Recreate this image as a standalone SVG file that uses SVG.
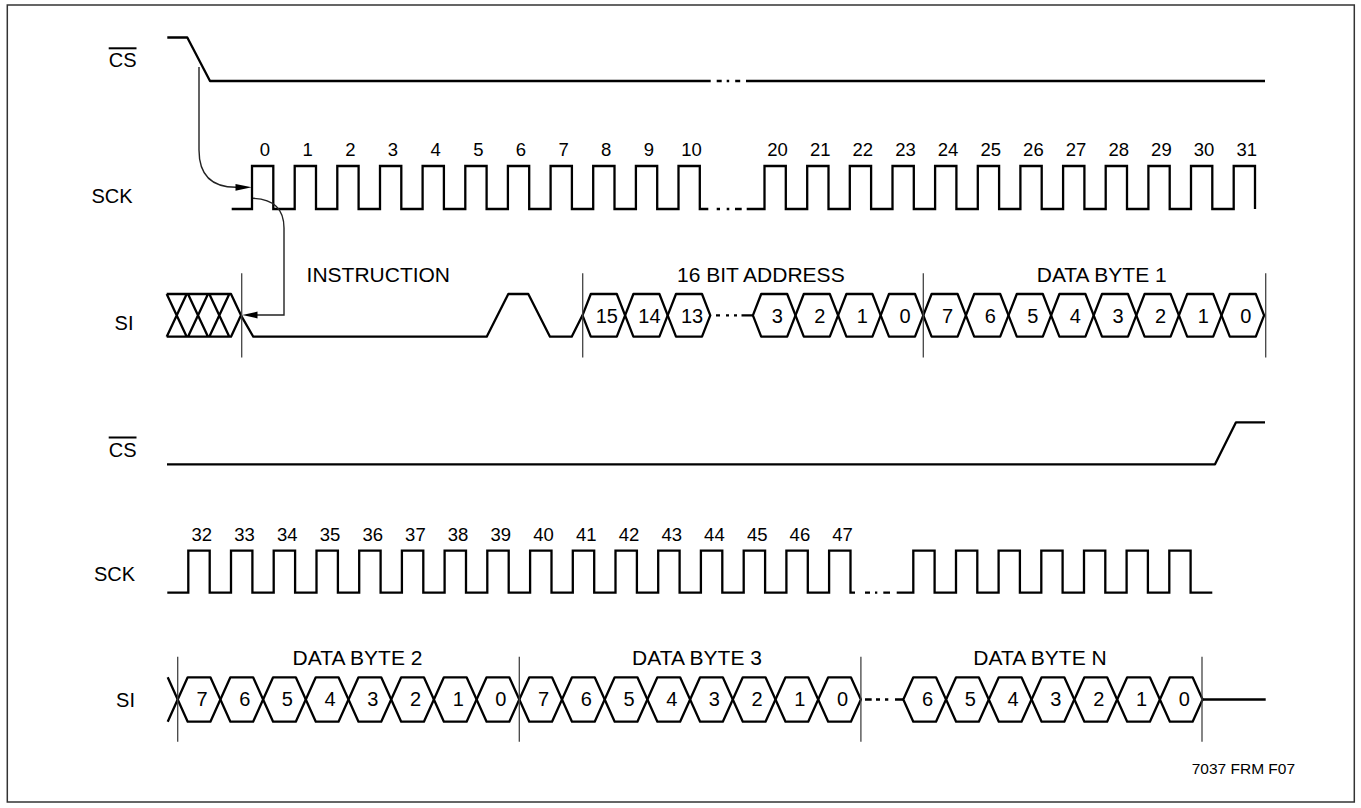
<svg xmlns="http://www.w3.org/2000/svg" xmlns:xlink="http://www.w3.org/1999/xlink" width="1361" height="808" viewBox="0 0 1361 808">
<style>
text{font-family:"Liberation Sans",Arial,sans-serif;fill:#000}
.sig{fill:none;stroke:#000;stroke-width:2.3;stroke-linejoin:round;stroke-linecap:butt}
.clk{fill:none;stroke:#000;stroke-width:2.3;stroke-linejoin:miter;stroke-linecap:butt}
.mk{stroke:#444;stroke-width:1.3}
.arr{fill:none;stroke:#222;stroke-width:1.4}
.ah{fill:#000}
.side{font-size:20px;text-anchor:end}
.num{font-size:18.5px;text-anchor:middle}
.bit{font-size:20px;text-anchor:middle}
.grp{font-size:21px;text-anchor:middle}
</style>
<defs>
<polygon id="hu" class="sig" points="0,0 8.3,-21.35 34.3,-21.35 42.6,0 34.3,21.35 8.3,21.35"/>
<polygon id="hl" class="sig" points="0,0 10,-22.2 32.7,-22.2 42.7,0 32.7,22.2 10,22.2"/>
</defs>
<rect x="7.3" y="5" width="1347" height="797" fill="none" stroke="#333" stroke-width="1.5"/>

<g id="labels">
<text class="side" x="136.5" y="67.3" text-decoration="overline">CS</text>
<text class="side" x="132.5" y="202.5">SCK</text>
<text class="side" x="133.5" y="329.5">SI</text>
<text class="side" x="136.5" y="456.5" text-decoration="overline">CS</text>
<text class="side" x="135" y="580.7">SCK</text>
<text class="side" x="135" y="706.7">SI</text>
<text x="1191.7" y="774.3" style="font-size:15.5px">7037 FRM F07</text>
</g>

<g id="cs-top">
<path class="sig" d="M167.3,37.5 H187.3 L210,81 H710.7 M746,81 H1265"/>
<path class="sig" d="M716.7,81 H721.7 M726.7,81 H729.2 M735.2,81 H740.2"/>
</g>

<g id="sck-top">
<path class="clk" d="M231.7,209 H252 V166 H273.3 V209 H294.7 V166 H316 V209 H337.3 V166 H358.6 V209 H380 V166 H401.3 V209 H422.6 V166 H443.9 V209 H465.3 V166 H486.6 V209 H507.9 V166 H529.2 V209 H550.6 V166 H571.9 V209 H593.2 V166 H614.5 V209 H635.9 V166 H657.2 V209 H678.5 V166 H699.8 V209 H708.3"/>
<path class="clk" d="M716.7,209 H720 M726.7,209 H729.3 M735,209 H741.7"/>
<path class="clk" d="M746.7,209 H764.5 V166 H785.8 V209 H807.2 V166 H828.5 V209 H849.8 V166 H871.1 V209 H892.5 V166 H913.8 V209 H935.1 V166 H956.4 V209 H977.8 V166 H999.1 V209 H1020.4 V166 H1041.7 V209 H1063.1 V166 H1084.4 V209 H1105.7 V166 H1127 V209 H1148.4 V166 H1169.7 V209 H1191 V166 H1212.3 V209 H1233.7 V166 H1255 V209"/>
<g class="num">
<text x="265" y="156">0</text><text x="307.7" y="156">1</text><text x="350.3" y="156">2</text><text x="393" y="156">3</text><text x="435.6" y="156">4</text><text x="478.3" y="156">5</text><text x="520.9" y="156">6</text><text x="563.6" y="156">7</text><text x="606.2" y="156">8</text><text x="648.9" y="156">9</text><text x="691.5" y="156">10</text>
<text x="777.5" y="156">20</text><text x="820.2" y="156">21</text><text x="862.8" y="156">22</text><text x="905.5" y="156">23</text><text x="948.1" y="156">24</text><text x="990.8" y="156">25</text><text x="1033.4" y="156">26</text><text x="1076.1" y="156">27</text><text x="1118.7" y="156">28</text><text x="1161.4" y="156">29</text><text x="1204" y="156">30</text><text x="1246.7" y="156">31</text>
</g>
</g>

<g id="si-top">
<path class="sig" d="M166.7,294 H231 L241,315.35 L231,336.7 H166.7 M166.7,294 L186.7,336.7 M166.7,336.7 L186.7,294 M188,294 L208,336.7 M188,336.7 L208,294 M209.3,294 L229.3,336.7 M209.3,336.7 L229.3,294"/>
<path class="sig" d="M241,315.35 L253.3,336.7 H486.7 L508.3,294 H528.3 L550,336.7 H571.7 L582.5,315.35"/>
<use xlink:href="#hu" x="582.5" y="315.35"/><use xlink:href="#hu" x="625.1" y="315.35"/><use xlink:href="#hu" x="667.7" y="315.35"/>
<path class="sig" d="M716,315.35 H720 M726,315.35 H729 M734,315.35 H737 M741.5,315.35 H752.9"/>
<use xlink:href="#hu" x="752.9" y="315.35"/><use xlink:href="#hu" x="795.5" y="315.35"/><use xlink:href="#hu" x="838.1" y="315.35"/><use xlink:href="#hu" x="880.7" y="315.35"/>
<use xlink:href="#hu" x="923.3" y="315.35"/><use xlink:href="#hu" x="965.9" y="315.35"/><use xlink:href="#hu" x="1008.5" y="315.35"/><use xlink:href="#hu" x="1051.1" y="315.35"/><use xlink:href="#hu" x="1093.7" y="315.35"/><use xlink:href="#hu" x="1136.3" y="315.35"/><use xlink:href="#hu" x="1178.9" y="315.35"/><use xlink:href="#hu" x="1221.5" y="315.35"/>
<g class="bit">
<text x="606.8" y="323">15</text><text x="649.4" y="323">14</text><text x="692" y="323">13</text>
<text x="777.2" y="323">3</text><text x="819.8" y="323">2</text><text x="862.4" y="323">1</text><text x="905" y="323">0</text>
<text x="947.6" y="323">7</text><text x="990.2" y="323">6</text><text x="1032.8" y="323">5</text><text x="1075.4" y="323">4</text><text x="1118" y="323">3</text><text x="1160.6" y="323">2</text><text x="1203.2" y="323">1</text><text x="1245.8" y="323">0</text>
</g>
<g class="mk"><line x1="241.7" y1="273.3" x2="241.7" y2="357.5"/><line x1="582.7" y1="273.3" x2="582.7" y2="357.5"/><line x1="923.3" y1="273.3" x2="923.3" y2="357.5"/><line x1="1265.7" y1="273.3" x2="1265.7" y2="357.5"/></g>
<g class="grp">
<text x="378.3" y="281.7">INSTRUCTION</text>
<text x="760.8" y="281.7">16 BIT ADDRESS</text>
<text x="1101.7" y="281.7">DATA BYTE 1</text>
</g>
</g>

<g id="cs-bottom">
<path class="sig" d="M167,464.3 H1215 L1236,422.3 H1265"/>
</g>

<g id="sck-bottom">
<path class="clk" d="M167.3,592.7 H188.3 V550.7 H209.7 V592.7 H231 V550.7 H252.4 V592.7 H273.7 V550.7 H295.1 V592.7 H316.5 V550.7 H337.9 V592.7 H359.2 V550.7 H380.6 V592.7 H401.9 V550.7 H423.3 V592.7 H444.6 V550.7 H466 V592.7 H487.3 V550.7 H508.7 V592.7 H530.1 V550.7 H551.5 V592.7 H572.8 V550.7 H594.2 V592.7 H615.5 V550.7 H636.9 V592.7 H658.2 V550.7 H679.6 V592.7 H700.9 V550.7 H722.3 V592.7 H743.7 V550.7 H765.1 V592.7 H786.4 V550.7 H807.8 V592.7 H829.1 V550.7 H850.5 V592.7 H855"/>
<path class="clk" d="M865,592.7 H870 M875,592.7 H877.3 M883.3,592.7 H890"/>
<path class="clk" d="M896.7,592.7 H913.3 V550.7 H934.6 V592.7 H956 V550.7 H977.3 V592.7 H998.6 V550.7 H1019.9 V592.7 H1041.3 V550.7 H1062.6 V592.7 H1084 V550.7 H1105.3 V592.7 H1126.6 V550.7 H1147.9 V592.7 H1169.3 V550.7 H1190.6 V592.7 H1212.3"/>
<g class="num">
<text x="201.8" y="540.7">32</text><text x="244.5" y="540.7">33</text><text x="287.2" y="540.7">34</text><text x="330" y="540.7">35</text><text x="372.7" y="540.7">36</text><text x="415.4" y="540.7">37</text><text x="458.1" y="540.7">38</text><text x="500.8" y="540.7">39</text><text x="543.6" y="540.7">40</text><text x="586.3" y="540.7">41</text><text x="629" y="540.7">42</text><text x="671.7" y="540.7">43</text><text x="714.4" y="540.7">44</text><text x="757.2" y="540.7">45</text><text x="799.9" y="540.7">46</text><text x="842.6" y="540.7">47</text>
</g>
</g>

<g id="si-bottom">
<path class="sig" d="M167.7,677.3 L177.7,699.5 L167.7,721.7"/>
<use xlink:href="#hl" x="177.7" y="699.5"/><use xlink:href="#hl" x="220.4" y="699.5"/><use xlink:href="#hl" x="263.1" y="699.5"/><use xlink:href="#hl" x="305.8" y="699.5"/><use xlink:href="#hl" x="348.5" y="699.5"/><use xlink:href="#hl" x="391.2" y="699.5"/><use xlink:href="#hl" x="433.9" y="699.5"/><use xlink:href="#hl" x="476.6" y="699.5"/>
<use xlink:href="#hl" x="519.3" y="699.5"/><use xlink:href="#hl" x="562" y="699.5"/><use xlink:href="#hl" x="604.7" y="699.5"/><use xlink:href="#hl" x="647.4" y="699.5"/><use xlink:href="#hl" x="690.1" y="699.5"/><use xlink:href="#hl" x="732.8" y="699.5"/><use xlink:href="#hl" x="775.5" y="699.5"/><use xlink:href="#hl" x="818.2" y="699.5"/>
<path class="sig" d="M865,699.5 H871.7 M876,699.5 H880 M885,699.5 H888.3 M895,699.5 H903.3"/>
<use xlink:href="#hl" x="903.3" y="699.5"/><use xlink:href="#hl" x="946.1" y="699.5"/><use xlink:href="#hl" x="988.8" y="699.5"/><use xlink:href="#hl" x="1031.6" y="699.5"/><use xlink:href="#hl" x="1074.4" y="699.5"/><use xlink:href="#hl" x="1117.2" y="699.5"/><use xlink:href="#hl" x="1159.9" y="699.5"/>
<path class="sig" d="M1202.7,699.5 H1265.7"/>
<g class="bit">
<text x="202" y="706">7</text><text x="244.7" y="706">6</text><text x="287.4" y="706">5</text><text x="330.1" y="706">4</text><text x="372.8" y="706">3</text><text x="415.5" y="706">2</text><text x="458.2" y="706">1</text><text x="500.9" y="706">0</text>
<text x="543.6" y="706">7</text><text x="586.3" y="706">6</text><text x="629" y="706">5</text><text x="671.7" y="706">4</text><text x="714.4" y="706">3</text><text x="757.1" y="706">2</text><text x="799.8" y="706">1</text><text x="842.5" y="706">0</text>
<text x="927.6" y="706">6</text><text x="970.4" y="706">5</text><text x="1013.1" y="706">4</text><text x="1055.9" y="706">3</text><text x="1098.7" y="706">2</text><text x="1141.5" y="706">1</text><text x="1184.2" y="706">0</text>
</g>
<g class="mk"><line x1="177.7" y1="656.7" x2="177.7" y2="741.7"/><line x1="519.3" y1="656.7" x2="519.3" y2="741.7"/><line x1="860.9" y1="656.7" x2="860.9" y2="741.7"/><line x1="1202" y1="656.7" x2="1202" y2="741.7"/></g>
<g class="grp">
<text x="357.5" y="665">DATA BYTE 2</text>
<text x="697" y="665">DATA BYTE 3</text>
<text x="1040" y="665">DATA BYTE N</text>
</g>
</g>

<g id="connectors">
<path class="arr" d="M199,67 V150 C199,175 212,187.3 236,187.3"/>
<polygon class="ah" points="251.7,187.3 235.5,183.9 235.5,190.7"/>
<path class="arr" d="M253,198.3 C272,199 284,207 284,228 V315 H257"/>
<polygon class="ah" points="242.3,315 257.5,311.6 257.5,318.4"/>
</g>
</svg>
